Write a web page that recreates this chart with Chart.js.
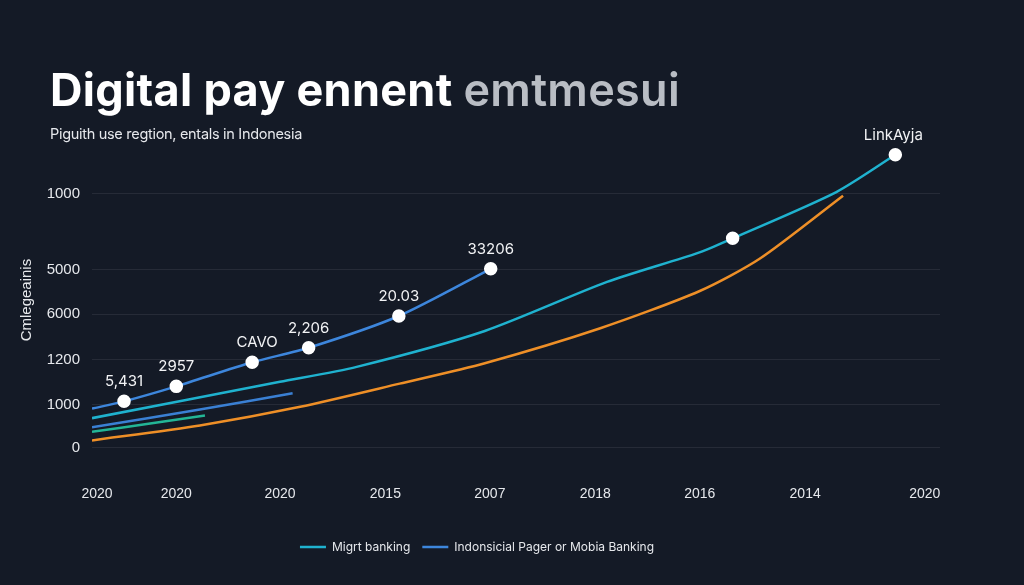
<!DOCTYPE html>
<html><head><meta charset="utf-8">
<script src="https://cdn.jsdelivr.net/npm/chart.js@4.4.1/dist/chart.umd.min.js"></script>
<style>
html,body{margin:0;padding:0;background:#141a26;width:1024px;height:585px;overflow:hidden;font-family:Inter,"Noto Sans",sans-serif}
#t{position:absolute;left:50px;top:62px;font-size:45px;font-weight:700;color:#fff;letter-spacing:0.3px}
#t span{color:#b9bdc4;font-weight:600}
#s{position:absolute;left:50px;top:125px;font-size:14.5px;color:#e6e8ec;letter-spacing:-0.3px}
#w{position:absolute;left:0;top:0;width:1024px;height:585px}
</style></head><body>
<div id="w"><canvas id="c" width="1024" height="585"></canvas></div>
<div id="t">Digital pay ennent <span>emtmesui</span></div>
<div id="s">Piguith use regtion, entals in Indonesia</div>
<script>
const xTickPos=[0,9.4,21.7,34.2,46.6,59.1,71.5,84,98.2];
const xTickLabels=["2020","2020","2020","2015","2007","2018","2016","2014","2020"];
const yTickPos=[0,0.94,1.94,2.94,3.92,5.59];
const yTickLabels=["0","1000","1200","6000","5000","1000"];
const seriesA_x=[-0.6,3.2,9.4,18.4,25.1,35.8,46.7];
const seriesA_y=[0.86,1.02,1.35,1.88,2.2,2.9,3.94];
const seriesA_labels=[null,"5,431","2957","CAVO","2,206","20.03","33206"];
const seriesB_x=[-0.6,21.7,30.8,46,60.5,71.3,75.4,87.7,94.7];
const seriesB_y=[0.65,1.45,1.78,2.57,3.65,4.29,4.61,5.63,6.45];
const seriesB_labels=[null,null,null,null,null,null,"",null,"LinkAyja"];
const seriesC_x=[-0.6,12.2,24.1,35.9,46,59.7,71.5,78.6,88.5];
const seriesC_y=[0.16,0.49,0.9,1.41,1.86,2.63,3.45,4.16,5.55];
const seriesD_x=[-0.6,12.2,23.2];
const seriesD_y=[0.45,0.84,1.2];
const seriesE_x=[-0.6,6.3,12.8];
const seriesE_y=[0.35,0.53,0.71];
const pts=(xs,ys)=>xs.map((x,i)=>({x,y:ys[i]}));
const dotR=(lbl)=>ctx=>lbl[ctx.dataIndex]!==null?5.5:0;
const labelPlugin={id:'lbl',afterDatasetsDraw(chart){
  const c=chart.ctx;c.save();c.fillStyle='#f2f3f5';c.font='15px Inter, "Noto Sans", sans-serif';c.textAlign='center';c.textBaseline='bottom';
  chart.data.datasets.forEach((ds,di)=>{if(!ds.labels)return;const m=chart.getDatasetMeta(di);
    m.data.forEach((p,i)=>{const t=ds.labels[i];if(t)c.fillText(t,p.x+(t==="CAVO"?5:0)+(t==="LinkAyja"?-2:0),p.y-12);});});
  c.restore();}};
const ds=(label,data,color,extra)=>Object.assign({label,data,borderColor:color,backgroundColor:color,borderWidth:2.5,tension:0.25,pointRadius:0,fill:false},extra||{});
new Chart(document.getElementById('c'),{type:'line',
 data:{datasets:[
  ds('Migrt banking',pts(seriesB_x,seriesB_y),'#1fb2cf',{labels:seriesB_labels,pointRadius:dotR(seriesB_labels),pointBackgroundColor:'#fff',pointBorderColor:'#fff'}),
  ds('Indonsicial Pager or Mobia Banking',pts(seriesA_x,seriesA_y),'#3d86dc',{labels:seriesA_labels,pointRadius:dotR(seriesA_labels),pointBackgroundColor:'#fff',pointBorderColor:'#fff'}),
  ds('orange',pts(seriesC_x,seriesC_y),'#ee8f27'),
  ds('blue2',pts(seriesD_x,seriesD_y),'#3a80d4'),
  ds('green',pts(seriesE_x,seriesE_y),'#23b596')
 ]},
 options:{responsive:false,animation:false,
  layout:{padding:{left:14,right:84,top:148,bottom:22}},
  plugins:{tooltip:{enabled:false},
   legend:{position:'bottom',labels:{color:'#e6e8ec',font:{size:12,family:'Inter'},boxWidth:26,boxHeight:0,padding:12,
    generateLabels:ch=>ch.data.datasets.slice(0,2).map((d,i)=>({text:d.label,fillStyle:d.borderColor,strokeStyle:d.borderColor,lineWidth:2.5,datasetIndex:i,fontColor:'#e6e8ec'}))}}},
  scales:{
   x:{type:'linear',min:-0.6,max:100,grid:{display:false},border:{display:false},
    afterBuildTicks:s=>{s.ticks=xTickPos.map(v=>({value:v}));},
    ticks:{color:'#e6e8ec',font:{size:14},padding:26,autoSkip:false,maxRotation:0,callback:(v,i)=>xTickLabels[i]}},
   y:{type:'linear',min:-0.1,max:6.6,grid:{color:'rgba(255,255,255,0.08)',drawTicks:false},border:{display:false},
    afterBuildTicks:s=>{s.ticks=yTickPos.map(v=>({value:v}));},
    afterFit:s=>{s.width=78;},
    title:{display:true,text:'Cmlegeainis',color:'#e6e8ec',font:{size:15}},
    ticks:{color:'#e6e8ec',font:{size:15},padding:12,callback:(v,i)=>yTickLabels[i]}}
  }},
 plugins:[labelPlugin]});
</script></body></html>
